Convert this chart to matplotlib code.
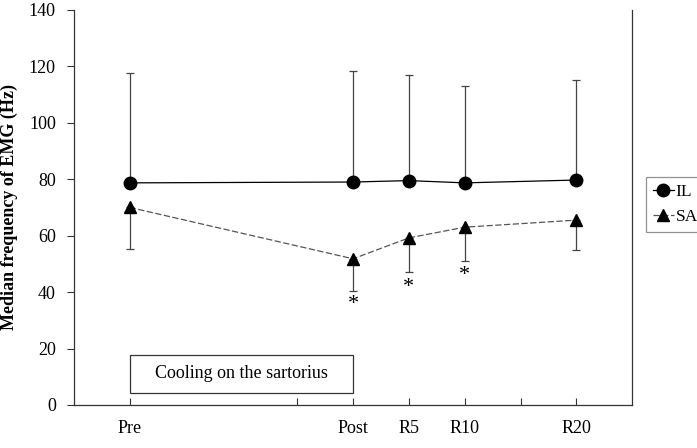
import matplotlib.pyplot as plt
from matplotlib.patches import Rectangle

plt.rcParams['font.family'] = ['Liberation Serif', 'DejaVu Serif']

# time points (min), Pre drawn at -20
times = [-20, 0, 5, 10, 20]
tick_pos = [-20, -5, 0, 5, 10, 15, 20]
tick_labels = ['Pre', '', 'Post', 'R5', 'R10', '', 'R20']

il_mean = [78.7, 79.0, 79.5, 78.7, 79.7]
il_upper = [117.5, 118.5, 117.0, 113.0, 115.0]

sa_mean = [70.0, 51.8, 59.2, 63.0, 65.5]
sa_lower = [55.3, 40.5, 47.0, 51.0, 55.0]

# significance marks
star_x = [0, 5, 10]
star_y = [35.5, 41.5, 46.0]

fig = plt.figure(figsize=(6.97, 4.48), dpi=100)
ax = fig.add_axes([0.106, 0.096, 0.801, 0.882])

il_err = [[0] * len(il_mean), [u - m for u, m in zip(il_upper, il_mean)]]
sa_err = [[m - l for m, l in zip(sa_mean, sa_lower)], [0] * len(sa_mean)]

ax.errorbar(times, il_mean, yerr=il_err, fmt='none', ecolor='#444444',
            elinewidth=0.9, capsize=3, capthick=0.9)
ax.errorbar(times, sa_mean, yerr=sa_err, fmt='none', ecolor='#444444',
            elinewidth=0.9, capsize=3, capthick=0.9)
ax.plot(times, il_mean, color='black', lw=0.9, marker='o', ms=9,
        mfc='black', mec='black', label='IL')
ax.plot(times, sa_mean, color='#555555', lw=0.9, ls=(0, (5, 2)), marker='^',
        ms=9, mfc='black', mec='black', label='SA')

for x, y in zip(star_x, star_y):
    ax.text(x, y, '*', ha='center', va='center', fontsize=16)

# cooling period box
ax.add_patch(Rectangle((-20, 4.3), 20, 13.4, fill=False, ec='#333333', lw=0.9))
ax.text(-10, 11, 'Cooling on the sartorius', ha='center', va='center', fontsize=13)

ax.set_xlim(-25, 25)
ax.set_ylim(0, 140)
ax.set_yticks(range(0, 141, 20))
ax.set_xticks(tick_pos)
ax.set_xticklabels(tick_labels, fontsize=13)
ax.tick_params(axis='y', labelsize=13, direction='out', length=5, pad=8,
               color='#333333')
ax.tick_params(axis='x', direction='in', length=5, pad=11, color='#333333')

ax.spines['top'].set_visible(False)
for s in ['left', 'bottom', 'right']:
    ax.spines[s].set_color('#333333')
    ax.spines[s].set_linewidth(0.9)

ax.set_ylabel('Median frequency of EMG (Hz)', fontsize=13, fontweight='bold')
ax.yaxis.set_label_coords(-0.1, 0.5)

leg = ax.legend(loc='upper left', bbox_to_anchor=(646 / 697, 1 - 177 / 448),
                bbox_transform=fig.transFigure, fontsize=12.5, frameon=True,
                fancybox=False, handlelength=1.2, handletextpad=0.1,
                borderpad=0.4, labelspacing=0.5, borderaxespad=0)
leg.get_frame().set_edgecolor('#777777')
leg.get_frame().set_linewidth(0.9)

fig.savefig('out.png', dpi=100)
